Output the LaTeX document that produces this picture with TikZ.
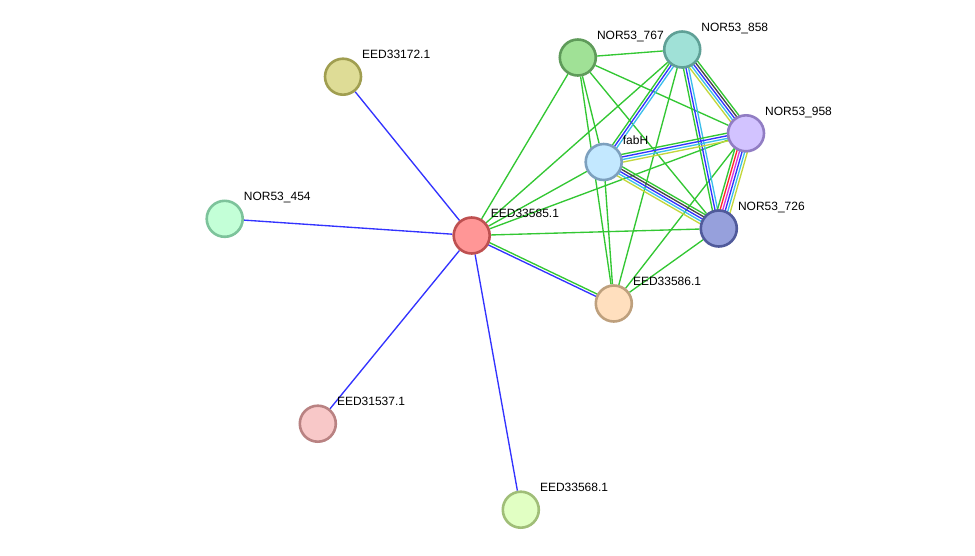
\documentclass[tikz,border=0pt]{standalone}
\usepackage{fontspec}
\setmainfont{Liberation Sans}
\usepackage{xcolor}
\usepackage{tikz}
\usetikzlibrary{calc, backgrounds}

% evidence colours
\definecolor{nbgreen}{RGB}{51,199,51}
\definecolor{coblue}{RGB}{51,51,255}
\definecolor{cxgray}{RGB}{70,70,70}
\definecolor{dbcyan}{RGB}{60,190,235}
\definecolor{tmyellow}{RGB}{195,215,60}
\definecolor{fsred}{RGB}{255,40,40}
\definecolor{exmagenta}{RGB}{220,50,220}

\tikzstyle{protein} = [circle, minimum size=36pt, inner sep=0pt, line width=2.6pt]
\tikzstyle{tag} = [anchor=base west, inner sep=0pt, font=\fontsize{12}{14}\selectfont]
\tikzstyle{edge} = [line width=1.35pt]

% parallel lines between two nodes: list of offset/colour
\newcommand{\bundle}[3]{%
  \foreach \off/\col in {#3} {
    \draw[edge, \col] ($(#1)!\off pt!90:(#2)$) -- ($(#2)!\off pt!-90:(#1)$);
  }
}

\begin{document}
\begin{tikzpicture}[x=1pt, y=-1pt]
            \useasboundingbox (0,0) rectangle (975,555);

            % Centre protein and its partners
            \node (n585) [protein, fill={rgb,255:red,255;green,150;blue,150}, draw={rgb,255:red,190;green,80;blue,80}] at (471.7,235.5) {};
            \node (n172) [protein, fill={rgb,255:red,222;green,220;blue,150}, draw={rgb,255:red,160;green,158;blue,80}] at (343,76.7) {};
            \node (n454) [protein, fill={rgb,255:red,195;green,255;blue,215}, draw={rgb,255:red,125;green,195;blue,155}] at (224.7,218.8) {};
            \node (n537) [protein, fill={rgb,255:red,248;green,200;blue,200}, draw={rgb,255:red,185;green,130;blue,130}] at (317.8,423.7) {};
            \node (n568) [protein, fill={rgb,255:red,225;green,255;blue,195}, draw={rgb,255:red,160;green,190;blue,120}] at (520.8,509.7) {};
            \node (n586) [protein, fill={rgb,255:red,255;green,223;blue,190}, draw={rgb,255:red,190;green,160;blue,125}] at (613.8,303.5) {};

            % Cluster
            \node (fabH) [protein, fill={rgb,255:red,195;green,232;blue,255}, draw={rgb,255:red,125;green,160;blue,190}] at (603.7,162) {};
            \node (n767) [protein, fill={rgb,255:red,160;green,225;blue,150}, draw={rgb,255:red,95;green,155;blue,90}] at (577.8,57.5) {};
            \node (n858) [protein, fill={rgb,255:red,160;green,225;blue,215}, draw={rgb,255:red,95;green,160;blue,150}] at (682.2,49.5) {};
            \node (n958) [protein, fill={rgb,255:red,210;green,195;blue,255}, draw={rgb,255:red,145;green,125;blue,195}] at (746,133.3) {};
            \node (n726) [protein, fill={rgb,255:red,150;green,160;blue,220}, draw={rgb,255:red,80;green,90;blue,155}] at (718.8,228.5) {};

            % Labels
            \node (t585) [tag] at ($(n585)+(19,-18)$) {EED33585.1};
            \node (t172) [tag] at ($(n172)+(19,-18)$) {EED33172.1};
            \node (t454) [tag] at ($(n454)+(19,-18)$) {NOR53\_454};
            \node (t537) [tag] at ($(n537)+(19,-18)$) {EED31537.1};
            \node (t568) [tag] at ($(n568)+(19,-18)$) {EED33568.1};
            \node (t586) [tag] at ($(n586)+(19,-18)$) {EED33586.1};
            \node (tfab) [tag] at ($(fabH)+(19,-18)$) {fabH};
            \node (t767) [tag] at ($(n767)+(19,-18)$) {NOR53\_767};
            \node (t858) [tag] at ($(n858)+(19,-18)$) {NOR53\_858};
            \node (t958) [tag] at ($(n958)+(19,-18)$) {NOR53\_958};
            \node (t726) [tag] at ($(n726)+(19,-18)$) {NOR53\_726};

            \begin{scope}[on background layer]
                % Single edges
                \draw [edge, coblue] (n585) -- (n172);
                \draw [edge, coblue] (n585) -- (n454);
                \draw [edge, coblue] (n585) -- (n537);
                \draw [edge, coblue] (n585) -- (n568);
                \foreach \p in {n767, n858, fabH, n958, n726}
                    \draw [edge, nbgreen] (n585) -- (\p);
                \foreach \p in {n858, n958, n726, fabH, n586}
                    \draw [edge, nbgreen] (n767) -- (\p);
                \foreach \p in {n858, fabH, n958, n726}
                    \draw [edge, nbgreen] (n586) -- (\p);

                % Bundles
                \bundle{n585}{n586}{1.3/nbgreen, -1.3/coblue}
                \bundle{fabH}{n858}{2.6/nbgreen, 0/coblue, -2.6/dbcyan}
                \bundle{n726}{n858}{2.6/nbgreen, 0/coblue, -2.6/dbcyan}
                \bundle{fabH}{n958}{3.9/nbgreen, 1.3/coblue, -1.3/dbcyan, -3.9/tmyellow}
                \bundle{n858}{n958}{5.2/nbgreen, 2.6/cxgray, 0/coblue, -2.6/dbcyan, -5.2/tmyellow}
                \bundle{fabH}{n726}{5.2/nbgreen, 2.6/cxgray, 0/coblue, -2.6/dbcyan, -5.2/tmyellow}
                \bundle{n726}{n958}{6.5/nbgreen, 3.9/fsred, 1.3/exmagenta, -1.3/coblue, -3.9/dbcyan, -6.5/tmyellow}
            \end{scope}
        \end{tikzpicture}
\end{document}
